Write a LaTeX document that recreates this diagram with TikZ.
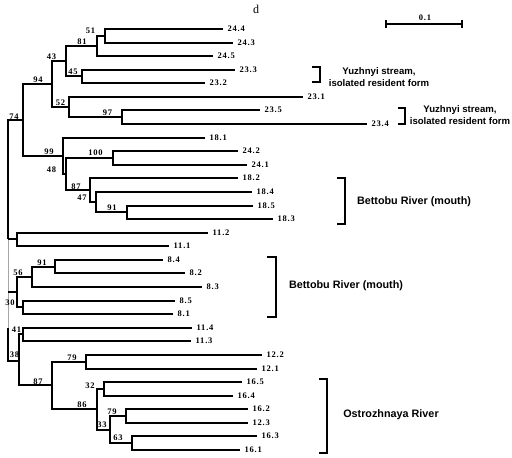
\documentclass[tikz,border=0pt]{standalone}
\usepackage{fontspec}
\setmainfont{Liberation Serif}
\newfontfamily\numfont[LetterSpace=9]{Liberation Serif}
\newfontfamily\grpfont{Liberation Sans}
\begin{document}
\begin{tikzpicture}[x=1pt,y=-1pt,
  branch/.style={line width=2pt, line join=miter},
  thinroot/.style={line width=1pt, gray!70},
  lab/.style={font=\numfont\bfseries\fontsize{8.5}{9}\selectfont, inner sep=0.5pt, anchor=west, xshift=4pt},
  boot/.style={font=\numfont\bfseries\fontsize{8.5}{9}\selectfont, inner sep=0pt},
  brk/.style={line width=1.3pt},
  grp/.style={font=\grpfont\bfseries\fontsize{10.8}{11}\selectfont, align=center, inner sep=0pt},
  grpy/.style={font=\grpfont\bfseries\fontsize{9.6}{11.5}\selectfont, align=center, inner sep=0pt}]
\useasboundingbox (0,0) rectangle (512,458);

% leaves (end of branch)
\coordinate (L244) at (223,29);
\coordinate (L243) at (233,43);
\coordinate (L245) at (213,56);
\coordinate (L233) at (235,70);
\coordinate (L232) at (205,83);
\coordinate (L231) at (303,97);
\coordinate (L235) at (260,110);
\coordinate (L234) at (367,124);
\coordinate (L181) at (205,138);
\coordinate (L242) at (238,151);
\coordinate (L241) at (247,165);
\coordinate (L182) at (238,178);
\coordinate (L184) at (252,192);
\coordinate (L185) at (253,206);
\coordinate (L183) at (273,219);
\coordinate (L112) at (208,233);
\coordinate (L111) at (169,246);
\coordinate (L84) at (163,260);
\coordinate (L82) at (185,273);
\coordinate (L83) at (202,287);
\coordinate (L85) at (175,301);
\coordinate (L81) at (173,314);
\coordinate (L114) at (192,328);
\coordinate (L113) at (191,341);
\coordinate (L122) at (262,355);
\coordinate (L121) at (257,369);
\coordinate (L165) at (242,382);
\coordinate (L164) at (233,396);
\coordinate (L162) at (248,409);
\coordinate (L123) at (248,423);
\coordinate (L163) at (257,436);
\coordinate (L161) at (240,450);

% internal nodes
\coordinate (n51) at (105,36);
\coordinate (n81) at (97,46);
\coordinate (n45) at (82,76);
\coordinate (n43) at (66,61);
\coordinate (n97) at (122,117);
\coordinate (n52) at (69,107);
\coordinate (n94) at (52,84);
\coordinate (n100) at (113,158);
\coordinate (n91a) at (127,212);
\coordinate (n47) at (96,202);
\coordinate (n87a) at (90,190);
\coordinate (n48) at (66,174);
\coordinate (n99) at (63,156);
\coordinate (n74) at (23,120);
\coordinate (n112) at (17,239);
\coordinate (n91b) at (55,267);
\coordinate (n56) at (32,277);
\coordinate (n85) at (23,307);
\coordinate (n30) at (17,292);
\coordinate (n41) at (23,334);
\coordinate (n79a) at (86,362);
\coordinate (n32) at (104,389);
\coordinate (n79b) at (126,416);
\coordinate (n63) at (132,443);
\coordinate (n33) at (110,430);
\coordinate (n86) at (97,409);
\coordinate (n87b) at (52,385);
\coordinate (n38) at (19,361);
\coordinate (root) at (8,239);
\coordinate (rootlow) at (8,328);

% branches
\draw[branch] (n51) |- (L244) (n51) |- (L243);
\draw[branch] (n81) |- (n51) (n81) |- (L245);
\draw[branch] (n45) |- (L233) (n45) |- (L232);
\draw[branch] (n43) |- (n81) (n43) |- (n45);
\draw[branch] (n97) |- (L235) (n97) |- (L234);
\draw[branch] (n52) |- (L231) (n52) |- (n97);
\draw[branch] (n94) |- (n43) (n94) |- (n52);
\draw[branch] (n100) |- (L242) (n100) |- (L241);
\draw[branch] (n91a) |- (L185) (n91a) |- (L183);
\draw[branch] (n47) |- (L184) (n47) |- (n91a);
\draw[branch] (n87a) |- (L182) (n87a) |- (n47);
\draw[branch] (n48) |- (n100) (n48) |- (n87a);
\draw[branch] (n99) |- (L181) (n99) |- (n48);
\draw[branch] (n74) |- (n94) (n74) |- (n99);
\draw[branch] (n112) |- (L112) (n112) |- (L111);
\draw[branch] (n91b) |- (L84) (n91b) |- (L82);
\draw[branch] (n56) |- (n91b) (n56) |- (L83);
\draw[branch] (n85) |- (L85) (n85) |- (L81);
\draw[branch] (n30) |- (n56) (n30) |- (n85);
\draw[branch] (n41) |- (L114) (n41) |- (L113);
\draw[branch] (n79a) |- (L122) (n79a) |- (L121);
\draw[branch] (n32) |- (L165) (n32) |- (L164);
\draw[branch] (n79b) |- (L162) (n79b) |- (L123);
\draw[branch] (n63) |- (L163) (n63) |- (L161);
\draw[branch] (n33) |- (n79b) (n33) |- (n63);
\draw[branch] (n86) |- (n32) (n86) |- (n33);
\draw[branch] (n87b) |- (n79a) (n87b) |- (n86);
\draw[branch] (n38) |- (n41) (n38) |- (n87b);
\draw[thinroot] (root) -- (rootlow);
\draw[branch] (root) |- (n74) (root) |- (n112);
\draw[branch] (root |- n30) -- (n30);
\draw[branch] (rootlow) |- (n38);

% leaf labels
\node[lab] (t244) at (L244) {24.4};
\node[lab] (t243) at (L243) {24.3};
\node[lab] (t245) at (L245) {24.5};
\node[lab] (t233) at (L233) {23.3};
\node[lab] (t232) at (L232) {23.2};
\node[lab] (t231) at (L231) {23.1};
\node[lab] (t235) at (L235) {23.5};
\node[lab] (t234) at (L234) {23.4};
\node[lab] (t181) at (L181) {18.1};
\node[lab] (t242) at (L242) {24.2};
\node[lab] (t241) at (L241) {24.1};
\node[lab] (t182) at (L182) {18.2};
\node[lab] (t184) at (L184) {18.4};
\node[lab] (t185) at (L185) {18.5};
\node[lab] (t183) at (L183) {18.3};
\node[lab] (t112) at (L112) {11.2};
\node[lab] (t111) at (L111) {11.1};
\node[lab] (t84) at (L84) {8.4};
\node[lab] (t82) at (L82) {8.2};
\node[lab] (t83) at (L83) {8.3};
\node[lab] (t85) at (L85) {8.5};
\node[lab] (t81) at (L81) {8.1};
\node[lab] (t114) at (L114) {11.4};
\node[lab] (t113) at (L113) {11.3};
\node[lab] (t122) at (L122) {12.2};
\node[lab] (t121) at (L121) {12.1};
\node[lab] (t165) at (L165) {16.5};
\node[lab] (t164) at (L164) {16.4};
\node[lab] (t162) at (L162) {16.2};
\node[lab] (t123) at (L123) {12.3};
\node[lab] (t163) at (L163) {16.3};
\node[lab] (t161) at (L161) {16.1};

% bootstrap values
\node[boot] (b51) at (90.5,31) {51};
\node[boot] (b81) at (82,42) {81};
\node[boot] (b43) at (51.5,57) {43};
\node[boot] (b45) at (73,72) {45};
\node[boot] (b94) at (38,80) {94};
\node[boot] (b52) at (60.5,103) {52};
\node[boot] (b97) at (107.5,113) {97};
\node[boot] (b74) at (14,117) {74};
\node[boot] (b99) at (49,152) {99};
\node[boot] (b100) at (95.5,153) {100};
\node[boot] (b48) at (51.5,170) {48};
\node[boot] (b87a) at (76,187) {87};
\node[boot] (b47) at (82,198) {47};
\node[boot] (b91a) at (112,208) {91};
\node[boot] (b91b) at (42,263) {91};
\node[boot] (b56) at (18,273) {56};
\node[boot] (b30) at (10,303) {30};
\node[boot] (b41) at (16.5,330) {41};
\node[boot] (b38) at (14.5,355) {38};
\node[boot] (b79a) at (72,358) {79};
\node[boot] (b87b) at (38,382) {87};
\node[boot] (b32) at (90,386) {32};
\node[boot] (b86) at (82,405) {86};
\node[boot] (b79b) at (112,412) {79};
\node[boot] (b33) at (102,425) {33};
\node[boot] (b63) at (118,438) {63};

% panel letter
\node[font=\fontsize{12}{12}\selectfont, inner sep=0pt] (panel) at (256,9) {d};

% scale bar
\coordinate (sb1) at (386,24);
\coordinate (sb2) at (462,24);
\draw[line width=2pt] (sb1) -- (sb2);
\draw[line width=1.6pt] ([yshift=-4pt]sb1) -- ([yshift=4pt]sb1);
\draw[line width=1.6pt] ([yshift=-4pt]sb2) -- ([yshift=4pt]sb2);
\node[boot] (sbl) at (425,18) {0.1};

% brackets
\coordinate (k1a) at (312,67); \coordinate (k1b) at (320,67);
\coordinate (k1c) at (320,82); \coordinate (k1d) at (312,82);
\draw[brk] (k1a) -- (k1b) -- (k1c) -- (k1d);
\coordinate (k2a) at (398,108); \coordinate (k2b) at (405,108);
\coordinate (k2c) at (405,124); \coordinate (k2d) at (398,124);
\draw[brk] (k2a) -- (k2b) -- (k2c) -- (k2d);
\coordinate (k3a) at (337,178); \coordinate (k3b) at (345,178);
\coordinate (k3c) at (345,224); \coordinate (k3d) at (337,224);
\draw[brk] (k3a) -- (k3b) -- (k3c) -- (k3d);
\coordinate (k4a) at (267,257); \coordinate (k4b) at (276,257);
\coordinate (k4c) at (276,317); \coordinate (k4d) at (267,317);
\draw[brk] (k4a) -- (k4b) -- (k4c) -- (k4d);
\coordinate (k5a) at (319,379); \coordinate (k5b) at (327,379);
\coordinate (k5c) at (327,453); \coordinate (k5d) at (319,453);
\draw[brk] (k5a) -- (k5b) -- (k5c) -- (k5d);

% group labels
\node[grpy] (g1) at (379,77) {Yuzhnyi stream,\\isolated resident form};
\node[grpy] (g2) at (460,115) {Yuzhnyi stream,\\isolated resident form};
\node[grp] (g3) at (414,202) {Bettobu River (mouth)};
\node[grp] (g4) at (346,286) {Bettobu River (mouth)};
\node[grp] (g5) at (391,415) {Ostrozhnaya River};
\end{tikzpicture}
\end{document}
